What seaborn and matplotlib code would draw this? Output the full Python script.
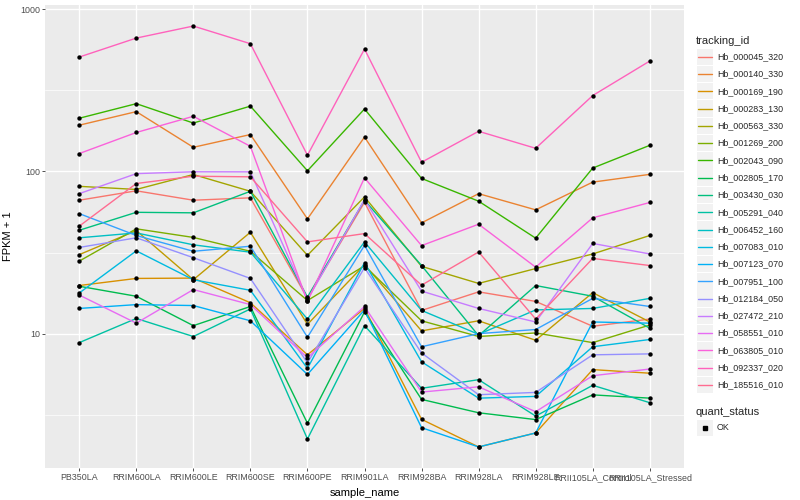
import numpy as np
import pandas as pd
import matplotlib
matplotlib.use('Agg')
import matplotlib.pyplot as plt
import seaborn as sns
from matplotlib.ticker import FixedLocator, FuncFormatter, NullFormatter
from matplotlib.lines import Line2D
from matplotlib.patches import Rectangle

samples = ['PB350LA', 'RRIM600LA', 'RRIM600LE', 'RRIM600SE', 'RRIM600PE',
           'RRIM901LA', 'RRIM928BA', 'RRIM928LA', 'RRIM928LE',
           'RRII105LA_Control', 'RRII105LA_Stressed']

tracking_ids = ['Hb_000045_320', 'Hb_000140_330', 'Hb_000169_190', 'Hb_000283_130',
                'Hb_000563_330', 'Hb_001269_200', 'Hb_002043_090', 'Hb_002805_170',
                'Hb_003430_030', 'Hb_005291_040', 'Hb_006452_160', 'Hb_007083_010',
                'Hb_007123_070', 'Hb_007951_100', 'Hb_012184_050', 'Hb_027472_210',
                'Hb_058551_010', 'Hb_063805_010', 'Hb_092337_020', 'Hb_185516_010']

# FPKM + 1, one list per gene, in sample order
hb_000045_320 = [66.5, 76, 66.5, 68.8, 16.5, 64.5, 13.9, 18.1, 15.8, 11.1, 12.3]
hb_000140_330 = [193, 234, 141, 169, 51, 163, 48.2, 73, 58, 86, 96]
hb_000169_190 = [19.8, 21.9, 22, 15.5, 7.4, 14.3, 2.96, 2.0, 2.44, 6.0, 5.7]
hb_000283_130 = [30.7, 43.2, 21.5, 42.2, 11.4, 26.6, 10.4, 12, 9.1, 17.9, 11.8]
hb_000563_330 = [81, 77.5, 95.8, 75.5, 30.4, 69.7, 26, 20.4, 25.2, 31, 40.3]
hb_001269_200 = [28, 44.3, 39.2, 32.2, 16.0, 26.2, 12, 9.6, 10.1, 8.8, 11.3]
hb_002043_090 = [213, 262, 199, 253, 101, 243, 90.6, 65.6, 38.8, 105, 145]
hb_002805_170 = [19.6, 17, 11.2, 14.7, 2.8, 13.6, 3.93, 3.25, 2.95, 4.19, 4.0]
hb_003430_030 = [43.4, 56, 55.6, 75.5, 16.8, 66.5, 26.3, 9.7, 19.8, 17, 10.8]
hb_005291_040 = [8.8, 12.4, 9.6, 14.2, 2.24, 11.2, 4.6, 5.2, 3.1, 4.8, 3.75]
hb_006452_160 = [39, 41.8, 35.3, 31.8, 12.3, 36.8, 13.9, 9.9, 14, 14.3, 16.5]
hb_007083_010 = [17.8, 32.4, 21.5, 18.5, 6.1, 27.4, 6.7, 4.0, 4.1, 8.3, 9.2]
hb_007123_070 = [14.3, 15.1, 14.9, 12, 5.6, 14.0, 2.63, 2.0, 2.44, 11.8, 11.6]
hb_007951_100 = [55, 40.3, 32.2, 34.6, 9.5, 35, 8.3, 10.0, 10.6, 16.5, 14.7]
hb_012184_050 = [34, 39, 29.4, 21.9, 6.6, 25.5, 7.6, 4.2, 4.34, 7.4, 7.5]
hb_027472_210 = [73, 97, 99.6, 99.5, 16.2, 67, 18.3, 14.3, 11.8, 36, 31]
hb_058551_010 = [17.3, 11.6, 18.7, 15.1, 7.1, 14.7, 4.36, 4.7, 3.3, 5.5, 6.05]
hb_063805_010 = [129, 174, 219, 143, 15.8, 91.4, 34.9, 47.3, 25.7, 51.8, 64.4]
hb_092337_020 = [508, 665, 789, 614, 126, 569, 114, 177, 139, 294, 480]
hb_185516_010 = [46, 84.3, 93.5, 92.7, 36.8, 41.4, 19.9, 31.9, 12.3, 29.1, 26.3]

series = [hb_000045_320, hb_000140_330, hb_000169_190, hb_000283_130, hb_000563_330,
          hb_001269_200, hb_002043_090, hb_002805_170, hb_003430_030, hb_005291_040,
          hb_006452_160, hb_007083_010, hb_007123_070, hb_007951_100, hb_012184_050,
          hb_027472_210, hb_058551_010, hb_063805_010, hb_092337_020, hb_185516_010]

colors = ['#F8766D', '#EA8331', '#D89000', '#C09B00', '#A3A500', '#7CAE00', '#39B600',
          '#00BB4E', '#00BF7D', '#00C1A3', '#00BFC4', '#00BAE0', '#00B0F6', '#35A2FF',
          '#9590FF', '#C77CFF', '#E76BF3', '#FA62DB', '#FF62BC', '#FF6C91']

df = pd.DataFrame({'sample_name': np.tile(samples, len(tracking_ids)),
                   'tracking_id': np.repeat(tracking_ids, len(samples)),
                   'fpkm1': np.concatenate(series)})

sns.set_style('darkgrid', {'axes.facecolor': '#EBEBEB', 'grid.color': 'white'})
plt.rcParams['font.family'] = ['Liberation Sans', 'DejaVu Sans']

W, H = 800, 500
fig = plt.figure(figsize=(8, 5), dpi=100)
ax = fig.add_axes([45 / W, 1 - 468 / H, (684 - 45) / W, 463 / H])

sns.lineplot(data=df, x='sample_name', y='fpkm1', hue='tracking_id',
             hue_order=tracking_ids, palette=colors, legend=False, ax=ax,
             linewidth=1.0, estimator=None, sort=False)
sns.scatterplot(data=df, x='sample_name', y='fpkm1', color='black', s=10,
                linewidth=0, legend=False, ax=ax, zorder=3)

ax.set_yscale('log')
lo, hi = np.log10(df['fpkm1'].min()), np.log10(df['fpkm1'].max())
pad = 0.05 * (hi - lo)
ax.set_ylim(10 ** (lo - pad), 10 ** (hi + pad))
ax.set_xlim(-0.6, len(samples) - 0.4)

ax.yaxis.set_major_locator(FixedLocator([10, 100, 1000]))
ax.yaxis.set_major_formatter(FuncFormatter(lambda v, p: '%g' % v))
ax.yaxis.set_minor_locator(FixedLocator([10 ** 0.5, 10 ** 1.5, 10 ** 2.5]))
ax.yaxis.set_minor_formatter(NullFormatter())

ax.set_axisbelow(True)
ax.grid(which='major', color='white', linewidth=1.0)
ax.grid(which='minor', axis='y', color='white', linewidth=0.5)
for s in ax.spines.values():
    s.set_visible(False)
ax.tick_params(axis='both', which='major', length=2, width=0.6, color='#333333',
               labelsize=6.4, labelcolor='#4D4D4D', pad=1.6, bottom=True, left=True)
ax.tick_params(which='minor', length=0)

ax.set_xlabel('sample_name', fontsize=8, color='black')
ax.set_ylabel('FPKM + 1', fontsize=8, color='black')
ax.xaxis.set_label_coords(0.5, (468 - 488) / 463)
ax.yaxis.set_label_coords((13 - 45) / 639, 0.5)


def px(x, y):
    return x / W, 1 - y / H


# legend: tracking_id
fig.text(*px(696, 40.7), 'tracking_id', fontsize=8, va='center', ha='left')
for i, (tid, c) in enumerate(zip(tracking_ids, colors)):
    yc = 56.7 + i * 17.28
    x0, y0 = px(696.5, yc + 8.2)
    fig.add_artist(Rectangle((x0, y0), 16.5 / W, 16.4 / H, transform=fig.transFigure,
                             facecolor='#F2F2F2', edgecolor='none'))
    fig.add_artist(Line2D([698 / W, 712 / W], [1 - yc / H] * 2, color=c, linewidth=1.0,
                          transform=fig.transFigure))
    fig.text(*px(717, yc), tid, fontsize=6.4, va='center', ha='left')

# legend: quant_status
fig.text(*px(696, 411.7), 'quant_status', fontsize=8, va='center', ha='left')
x0, y0 = px(696.5, 427.7 + 8.2)
fig.add_artist(Rectangle((x0, y0), 16.5 / W, 16.4 / H, transform=fig.transFigure,
                         facecolor='#F2F2F2', edgecolor='none'))
fig.add_artist(Line2D([705 / W], [1 - 427.7 / H], marker='s', markersize=2.8,
                      color='black', linestyle='none', transform=fig.transFigure))
fig.text(*px(717, 427.7), 'OK', fontsize=6.4, va='center', ha='left')

fig.savefig('out.png', dpi=100)
